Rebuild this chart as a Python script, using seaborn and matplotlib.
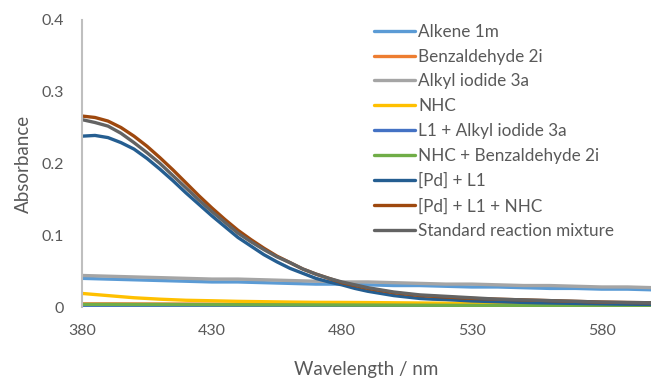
import numpy as np
import pandas as pd
import matplotlib
matplotlib.use("Agg")
import matplotlib.pyplot as plt
import seaborn as sns

# wavelength grids (nm): fine grid for the strongly absorbing samples, coarse for the flat ones
wl_fine = list(range(380, 601, 5))
wl_coarse = list(range(380, 601, 10))

# absorbance readings, coarse grid
alkene_1m = [0.040, 0.039, 0.038, 0.037, 0.036, 0.035, 0.035, 0.034, 0.033, 0.032, 0.032, 0.031,
             0.030, 0.030, 0.029, 0.028, 0.028, 0.027, 0.026, 0.026, 0.025, 0.025, 0.024]
benzaldehyde_2i = [0.0045, 0.0045, 0.0044, 0.0043, 0.0042, 0.0041, 0.0040, 0.0039, 0.0038, 0.0037, 0.0036, 0.0035,
                   0.0034, 0.0033, 0.0032, 0.0031, 0.0030, 0.0029, 0.0028, 0.0027, 0.0026, 0.0025, 0.0025]
alkyl_iodide_3a = [0.044, 0.043, 0.042, 0.041, 0.040, 0.039, 0.039, 0.038, 0.037, 0.036, 0.035, 0.035,
                   0.034, 0.033, 0.032, 0.032, 0.031, 0.030, 0.030, 0.029, 0.028, 0.028, 0.027]
nhc = [0.019, 0.016, 0.013, 0.011, 0.0095, 0.0088, 0.0080, 0.0075, 0.0070, 0.0066, 0.0065, 0.0063,
       0.0060, 0.0057, 0.0054, 0.0051, 0.0048, 0.0045, 0.0042, 0.0040, 0.0038, 0.0036, 0.0035]
l1_alkyl_iodide = [0.0005, 0.0005, 0.0005, 0.0005, 0.0004, 0.0004, 0.0004, 0.0004, 0.0004, 0.0003, 0.0003, 0.0003,
                   0.0003, 0.0003, 0.0003, 0.0003, 0.0002, 0.0002, 0.0002, 0.0002, 0.0002, 0.0002, 0.0002]
nhc_benzaldehyde = [0.0037, 0.0037, 0.0036, 0.0036, 0.0035, 0.0034, 0.0033, 0.0032, 0.0031, 0.0030, 0.0029, 0.0028,
                    0.0027, 0.0026, 0.0025, 0.0024, 0.0023, 0.0022, 0.0021, 0.0020, 0.0020, 0.0019, 0.0019]

# absorbance readings, fine grid
pd_l1 = [0.238, 0.239, 0.236, 0.229, 0.220, 0.207, 0.192, 0.176, 0.159, 0.143,
         0.127, 0.112, 0.097, 0.085, 0.073, 0.063, 0.054, 0.047, 0.040, 0.035,
         0.031, 0.026, 0.022, 0.019, 0.016, 0.014, 0.012, 0.011, 0.0105, 0.0095,
         0.0085, 0.008, 0.0075, 0.007, 0.0065, 0.006, 0.0057, 0.0054, 0.0051, 0.0048,
         0.0045, 0.0042, 0.004, 0.0038, 0.0037]
pd_l1_nhc = [0.266, 0.264, 0.259, 0.250, 0.238, 0.224, 0.208, 0.191, 0.173, 0.155,
             0.138, 0.122, 0.107, 0.094, 0.082, 0.071, 0.062, 0.053, 0.046, 0.040,
             0.034, 0.030, 0.026, 0.023, 0.020, 0.018, 0.016, 0.015, 0.014, 0.013,
             0.012, 0.0115, 0.011, 0.0105, 0.010, 0.0095, 0.009, 0.0085, 0.008, 0.0075,
             0.007, 0.0067, 0.0064, 0.0062, 0.006]
standard_mix = [0.261, 0.257, 0.252, 0.242, 0.229, 0.215, 0.200, 0.183, 0.166, 0.149,
                0.133, 0.118, 0.103, 0.091, 0.080, 0.070, 0.062, 0.053, 0.046, 0.040,
                0.035, 0.031, 0.027, 0.024, 0.021, 0.019, 0.017, 0.016, 0.015, 0.014,
                0.013, 0.012, 0.011, 0.0105, 0.010, 0.0095, 0.009, 0.0085, 0.008, 0.0075,
                0.007, 0.0067, 0.0064, 0.0062, 0.006]

labels = ["Alkene 1m", "Benzaldehyde 2i", "Alkyl iodide 3a", "NHC", "L1 + Alkyl iodide 3a",
          "NHC + Benzaldehyde 2i", "[Pd] + L1", "[Pd] + L1 + NHC", "Standard reaction mixture"]
series = [alkene_1m, benzaldehyde_2i, alkyl_iodide_3a, nhc, l1_alkyl_iodide,
          nhc_benzaldehyde, pd_l1, pd_l1_nhc, standard_mix]
colors = ["#5B9BD5", "#ED7D31", "#A5A5A5", "#FFC000", "#4472C4",
          "#70AD47", "#255E91", "#9E480E", "#636363"]

frames = []
for lab, vals in zip(labels, series):
    wl = wl_fine if len(vals) == len(wl_fine) else wl_coarse
    frames.append(pd.DataFrame({"Wavelength": wl, "Absorbance": vals, "Sample": lab}))
df = pd.concat(frames, ignore_index=True)

sns.set_style("white")
plt.rcParams['font.family'] = ['Lato', 'DejaVu Sans']
text_col = "#595959"

fig = plt.figure(figsize=(6.51, 3.81), dpi=100)
ax = fig.add_axes([0.126, 0.194, 0.874, 0.754])

sns.lineplot(data=df, x="Wavelength", y="Absorbance", hue="Sample",
             hue_order=labels, palette=dict(zip(labels, colors)),
             linewidth=2.4, ax=ax, sort=False)

ax.set_xlim(380, 599)
ax.set_ylim(0, 0.4)
ax.set_xticks([380, 430, 480, 530, 580])
ax.set_yticks([0, 0.1, 0.2, 0.3, 0.4])
ax.set_yticklabels(["0", "0.1", "0.2", "0.3", "0.4"])
ax.tick_params(axis="both", length=0, labelsize=11.5, colors=text_col)
ax.tick_params(axis="x", pad=12)
ax.tick_params(axis="y", pad=13)
ax.set_xlabel("Wavelength / nm", fontsize=13.5, color=text_col, labelpad=17)
ax.set_ylabel("Absorbance", fontsize=13.5, color=text_col, labelpad=7)

for side in ["top", "right", "bottom"]:
    ax.spines[side].set_visible(False)
ax.spines["left"].set_color("#BFBFBF")
ax.spines["left"].set_linewidth(1.5)

leg = ax.legend(loc="upper left", bbox_to_anchor=(0.486, 1.04), frameon=False,
                fontsize=12.3, handlelength=2.4, handletextpad=0.2, labelspacing=0.52)
for t in leg.get_texts():
    t.set_color(text_col)
for h in leg.get_lines():
    h.set_linewidth(2.4)

fig.savefig("out.png", dpi=100)
